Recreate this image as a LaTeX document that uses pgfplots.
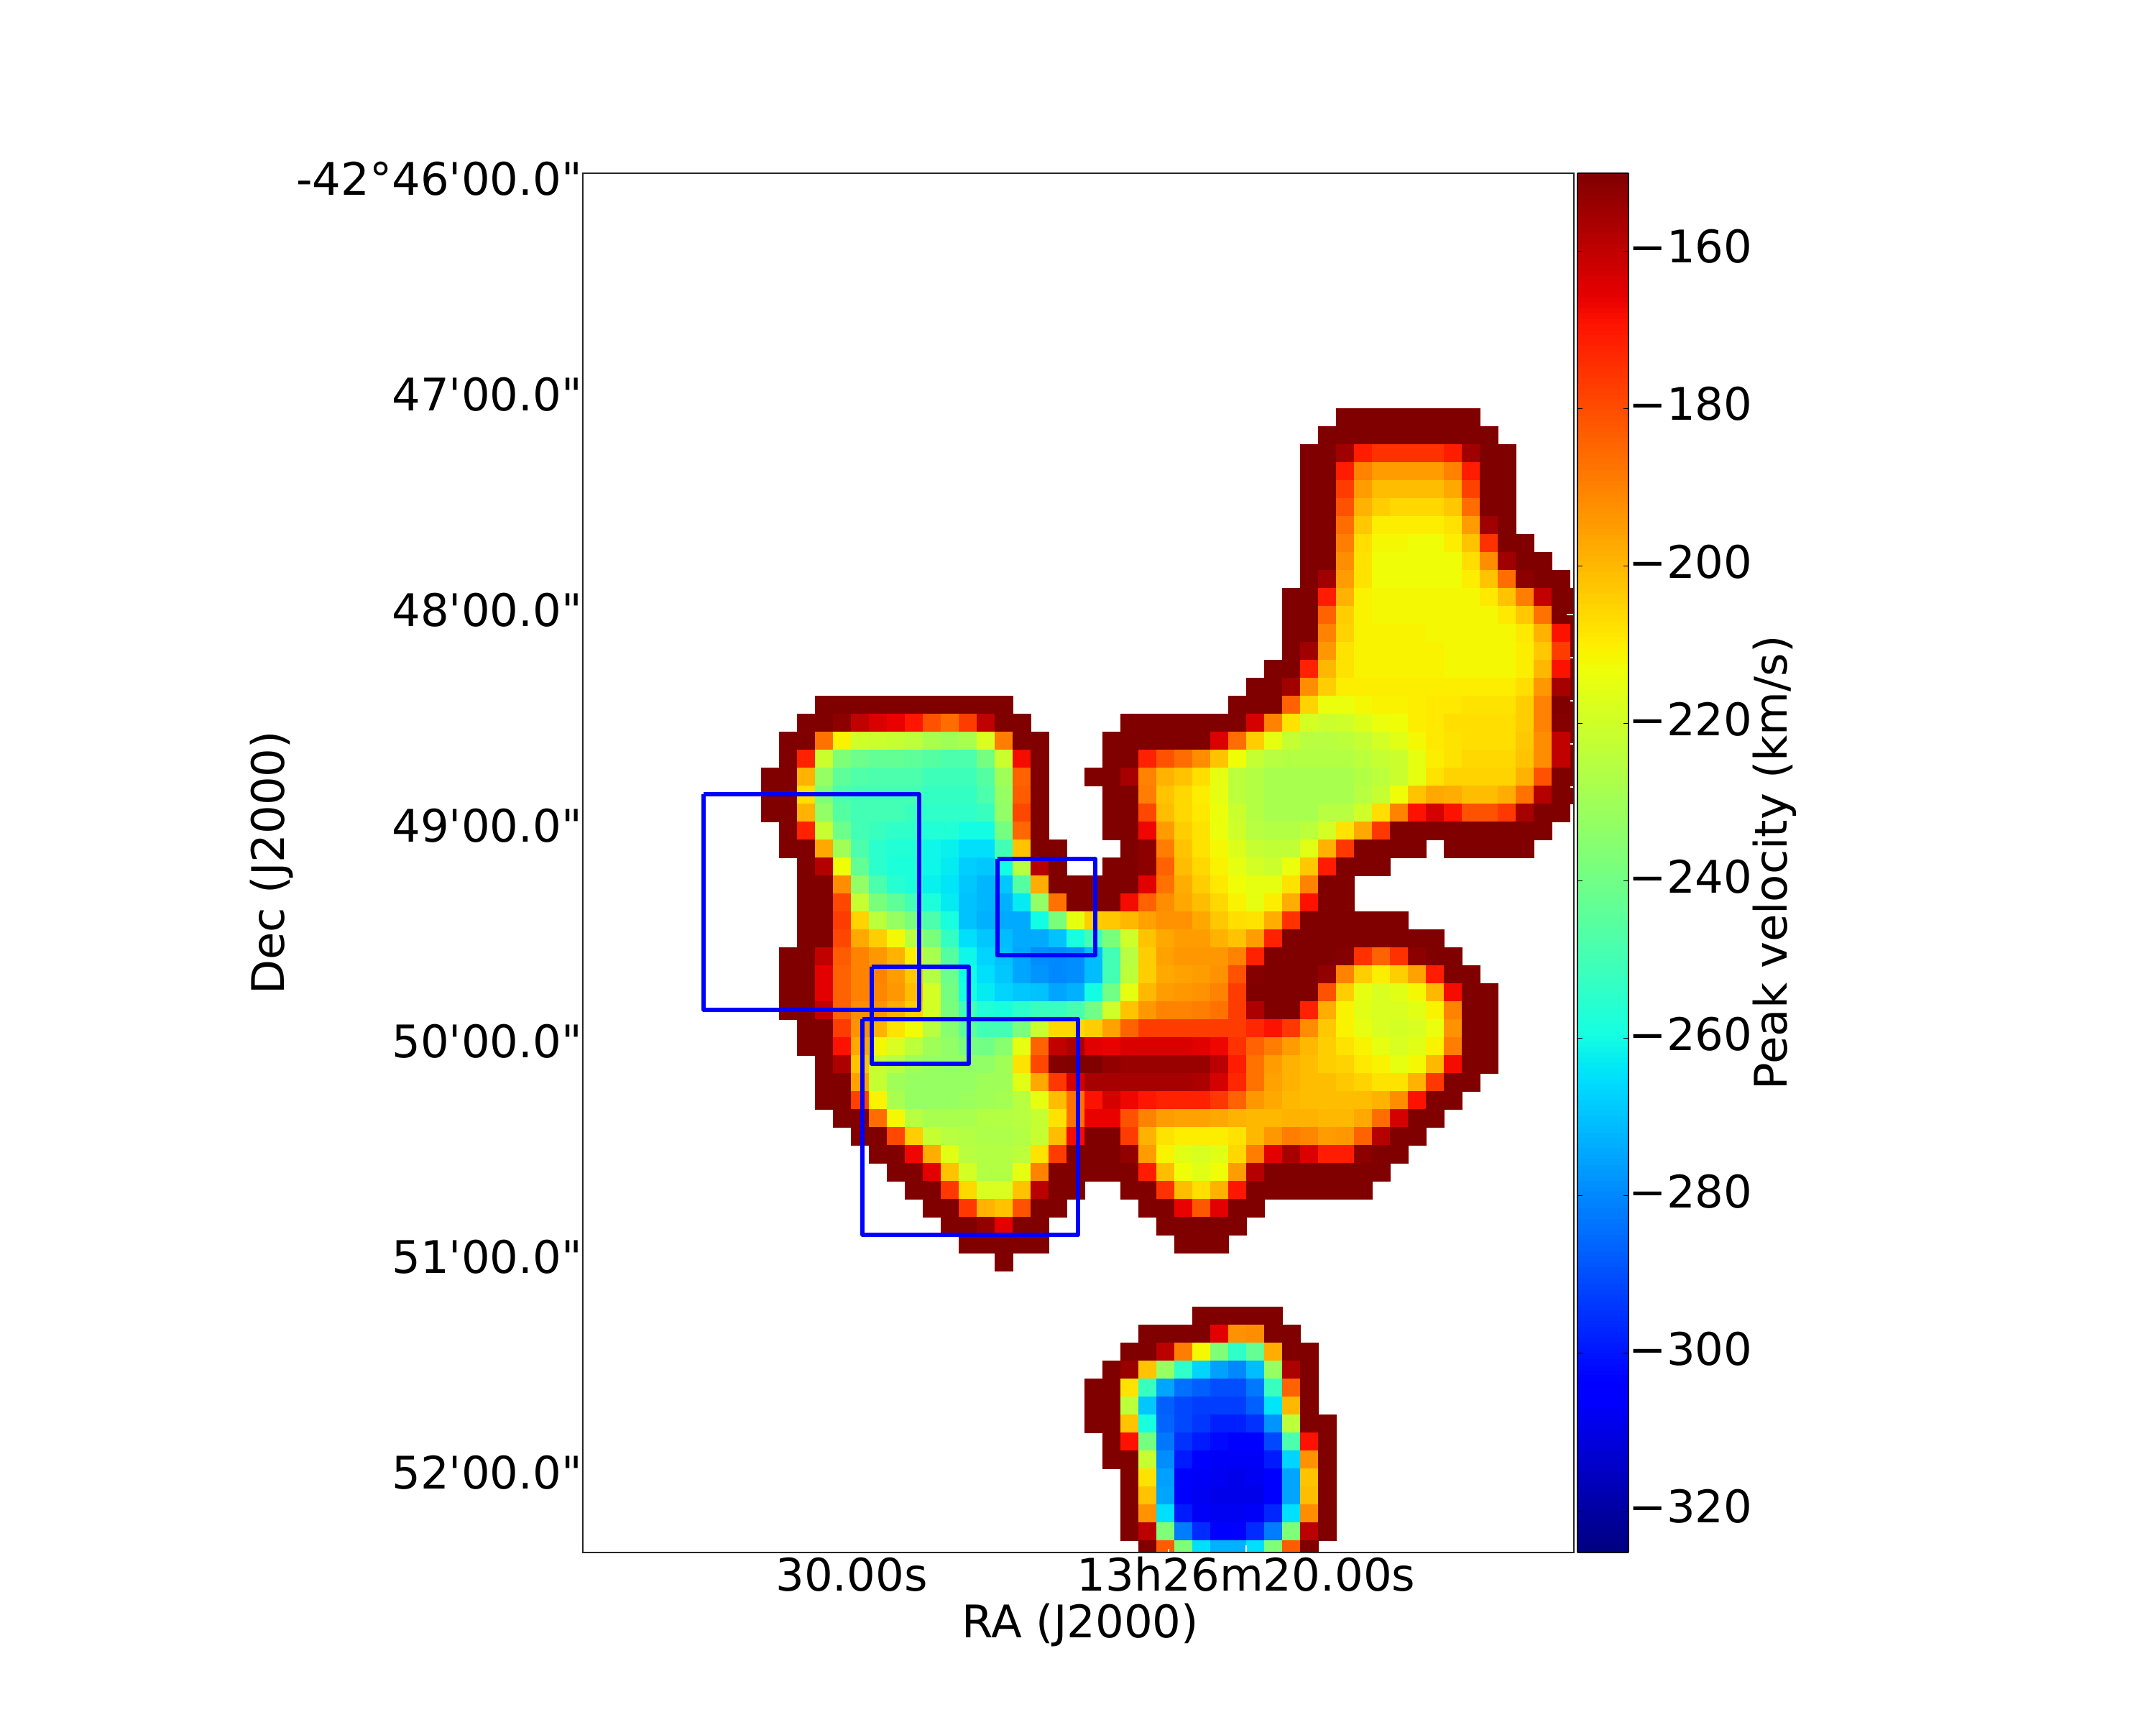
\documentclass[border=0pt]{standalone}
\usepackage{fontspec}
\usepackage{pgfplots}
\pgfplotsset{compat=1.18}
\newfontfamily\lab{DejaVu Sans}

% matplotlib jet
\pgfplotsset{colormap={mpljet}{
  rgb(0pt)=(0,0,.5); rgb(110pt)=(0,0,1); rgb(125pt)=(0,0,1); rgb(340pt)=(0,.86,1);
  rgb(350pt)=(0,.9,.968); rgb(375pt)=(.081,1,.887); rgb(640pt)=(.935,1,.032);
  rgb(650pt)=(.968,.963,0); rgb(660pt)=(1,.926,0); rgb(890pt)=(1,.074,0);
  rgb(910pt)=(.909,0,0); rgb(1000pt)=(.5,0,0)}}

% one image row: row index, first column, peak velocities (km/s)
% last column is cut by the frame, its centre is outside: drawn first, just inside
\def\cells{(54.7,23) [-150] (54.7,24) [-150] (54.7,25) [-150] (54.7,26) [-150] (54.7,27) [-150] (54.7,28) [-150] (54.7,29) [-150] (54.7,30) [-150] (54.7,31) [-150] (54.7,32) [-150] (54.7,33) [-150] (54.7,34) [-150] }
\newcount\cc
\newcommand\cellrow[3]{\cc=#2\relax\foreach \v in {#3}{\xdef\cells{\cells (\the\cc,#1) [\v]}\global\advance\cc by 1\relax}}

\cellrow{13}{42}{-150,-150,-150,-150,-150,-150,-150,-150}
\cellrow{14}{41}{-150,-150,-150,-150,-150,-150,-150,-150,-150,-150}
\cellrow{15}{40}{-150,-150,-155,-171,-175,-175,-175,-175,-171,-155,-150,-150}
\cellrow{16}{40}{-150,-150,-171,-190,-195,-195,-195,-195,-190,-171,-150,-150}
\cellrow{17}{40}{-150,-150,-177,-195,-201,-201,-201,-201,-197,-178,-150,-150}
\cellrow{18}{40}{-150,-150,-181,-199,-204,-206,-206,-206,-203,-186,-150,-150}
\cellrow{19}{40}{-150,-150,-186,-203,-210,-210,-210,-210,-208,-195,-155,-150}
\cellrow{20}{40}{-150,-150,-189,-207,-212,-212,-213,-213,-210,-202,-175,-150,-150}
\cellrow{21}{40}{-150,-150,-192,-208,-213,-213,-213,-213,-213,-207,-192,-155,-150,-150}
\cellrow{22}{40}{-150,-155,-195,-208,-213,-213,-213,-213,-213,-210,-202,-186,-152,-150,-150}
\cellrow{23}{39}{-150,-150,-171,-199,-211,-212,-212,-212,-212,-212,-212,-209,-202,-189,-160,-150}
\cellrow{24}{39}{-150,-150,-184,-204,-211,-212,-212,-212,-212,-212,-212,-212,-209,-203,-187,-150}
\cellrow{25}{39}{-150,-150,-190,-205,-211,-211,-211,-211,-212,-212,-212,-212,-212,-209,-199,-169}
\cellrow{26}{39}{-150,-155,-194,-208,-211,-211,-211,-211,-211,-212,-212,-212,-212,-210,-203,-177}
\cellrow{27}{38}{-150,-150,-172,-200,-208,-211,-211,-211,-211,-211,-212,-212,-212,-212,-210,-200,-169}
\cellrow{28}{37}{-150,-150,-155,-192,-204,-210,-210,-210,-210,-210,-210,-210,-210,-210,-210,-207,-194,-156}
\cellrow{29}{13}{-150,-150,-150,-150,-150,-150,-150,-150,-150,-150,-150}
\cellrow{29}{36}{-150,-150,-150,-184,-205,-214,-214,-212,-211,-211,-210,-209,-209,-208,-208,-208,-204,-190,-150}
\cellrow{30}{12}{-150,-150,-152,-160,-164,-166,-170,-181,-186,-177,-160,-150,-150}
\cellrow{30}{30}{-150,-150,-150,-150,-150,-150,-150,-163,-190,-208,-219,-221,-220,-217,-214,-213,-210,-209,-207,-207,-207,-207,-204,-190,-151}
\cellrow{31}{11}{-150,-150,-187,-211,-220,-221,-222,-224,-228,-230,-228,-218,-189,-150,-150}
\cellrow{31}{29}{-150,-150,-150,-150,-150,-150,-164,-186,-204,-215,-222,-225,-225,-224,-222,-219,-216,-212,-209,-208,-207,-207,-207,-203,-192,-160}
\cellrow{32}{11}{-150,-172,-221,-237,-241,-243,-243,-244,-246,-248,-248,-239,-221,-168,-150}
\cellrow{32}{29}{-150,-150,-172,-181,-186,-192,-202,-213,-222,-225,-226,-226,-226,-226,-224,-222,-221,-215,-210,-208,-206,-206,-206,-202,-192,-160}
\cellrow{33}{10}{-150,-150,-199,-232,-244,-247,-248,-248,-248,-251,-251,-251,-246,-230,-184,-150}
\cellrow{33}{28}{-150,-150,-156,-190,-199,-202,-207,-215,-224,-226,-228,-228,-228,-228,-228,-226,-224,-221,-215,-208,-205,-205,-205,-205,-199,-181,-150}
\cellrow{34}{10}{-150,-150,-207,-237,-248,-250,-250,-250,-250,-253,-253,-253,-248,-232,-183,-150}
\cellrow{34}{29}{-150,-150,-189,-202,-206,-210,-215,-224,-226,-228,-228,-228,-228,-228,-225,-222,-213,-202,-197,-198,-201,-201,-198,-187,-158,-150}
\cellrow{35}{10}{-150,-150,-199,-233,-246,-250,-250,-250,-252,-254,-254,-254,-252,-233,-179,-150}
\cellrow{35}{29}{-150,-150,-179,-201,-206,-209,-214,-221,-226,-228,-228,-228,-225,-225,-220,-207,-190,-169,-163,-169,-181,-181,-176,-156,-150,-150}
\cellrow{36}{11}{-150,-172,-222,-241,-250,-252,-254,-254,-257,-257,-260,-260,-239,-185,-150}
\cellrow{36}{29}{-150,-150,-167,-195,-204,-208,-214,-220,-225,-226,-226,-224,-219,-208,-197,-176,-150,-150,-150,-150,-150,-150,-150,-150,-150}
\cellrow{37}{11}{-150,-150,-197,-230,-248,-255,-257,-257,-261,-262,-265,-265,-250,-202,-150,-150}
\cellrow{37}{30}{-150,-152,-189,-202,-208,-212,-217,-222,-223,-223,-216,-199,-176,-150,-150,-150,-150}
\cellrow{37}{48}{-150,-150,-150,-150,-150}
\cellrow{38}{12}{-150,-158,-213,-243,-255,-258,-258,-261,-263,-268,-269,-260,-225,-158,-150}
\cellrow{38}{29}{-150,-150,-152,-184,-201,-206,-211,-215,-219,-221,-214,-203,-171,-150,-150,-150}
\cellrow{39}{12}{-150,-150,-192,-233,-248,-256,-258,-262,-264,-269,-272,-269,-246,-198,-150,-150,-150,-150,-150,-165,-187,-198,-204,-209,-213,-215,-215,-208,-190,-150,-150}
\cellrow{40}{12}{-150,-150,-179,-222,-238,-244,-250,-258,-263,-270,-272,-273,-263,-233,-187,-150,-150,-150,-168,-184,-192,-197,-201,-206,-211,-215,-210,-198,-169,-150,-150}
\cellrow{41}{12}{-150,-150,-177,-205,-224,-232,-238,-248,-259,-270,-273,-274,-274,-260,-238,-215,-204,-203,-200,-196,-193,-193,-197,-203,-207,-208,-198,-175,-150,-150,-150,-150,-150,-150}
\cellrow{42}{12}{-150,-150,-179,-197,-204,-212,-225,-238,-253,-265,-269,-271,-274,-274,-270,-259,-250,-238,-220,-202,-197,-195,-195,-199,-202,-195,-172,-150,-150,-150,-150,-150,-150,-150,-150,-150}
\cellrow{43}{11}{-150,-150,-160,-183,-190,-194,-199,-210,-228,-246,-261,-267,-270,-275,-279,-280,-279,-271,-250,-225,-204,-196,-194,-194,-194,-190,-172,-150,-150,-150,-150,-151,-175,-184,-175,-152,-150,-150}
\cellrow{44}{11}{-150,-150,-165,-184,-190,-190,-195,-203,-226,-241,-260,-265,-269,-275,-278,-280,-279,-271,-250,-224,-204,-197,-196,-195,-193,-181,-151,-150,-150,-150,-153,-190,-204,-210,-204,-196,-171,-150,-150}
\cellrow{45}{11}{-150,-150,-165,-184,-190,-191,-194,-201,-219,-239,-259,-263,-267,-269,-270,-275,-273,-260,-240,-215,-200,-195,-194,-193,-190,-177,-150,-150,-150,-150,-181,-204,-215,-218,-216,-212,-200,-168,-150,-150}
\cellrow{46}{11}{-150,-150,-160,-184,-192,-193,-198,-204,-219,-238,-250,-257,-259,-255,-252,-252,-249,-240,-220,-202,-194,-190,-190,-189,-187,-177,-157,-150,-150,-172,-198,-211,-216,-218,-218,-216,-211,-190,-150,-150}
\cellrow{47}{12}{-150,-150,-177,-193,-199,-208,-213,-225,-235,-244,-250,-250,-238,-221,-206,-206,-204,-196,-184,-177,-177,-177,-177,-177,-177,-173,-169,-176,-192,-203,-211,-215,-218,-219,-218,-214,-193,-150,-150}
\cellrow{48}{12}{-150,-150,-169,-197,-212,-218,-224,-230,-233,-238,-240,-235,-215,-184,-160,-157,-165,-166,-164,-164,-164,-164,-165,-167,-175,-184,-189,-195,-200,-204,-208,-211,-215,-218,-216,-211,-189,-150,-150}
\cellrow{49}{13}{-150,-157,-202,-222,-225,-230,-232,-233,-233,-233,-230,-208,-179,-151,-150,-150,-153,-154,-154,-154,-154,-154,-159,-171,-187,-195,-199,-201,-204,-205,-209,-211,-215,-212,-200,-168,-150,-150}
\cellrow{50}{13}{-150,-150,-196,-222,-230,-232,-232,-232,-232,-230,-230,-216,-197,-176,-163,-156,-156,-156,-156,-156,-156,-157,-163,-173,-187,-196,-199,-201,-201,-203,-205,-208,-208,-199,-176,-150,-150}
\cellrow{51}{13}{-150,-150,-178,-211,-228,-232,-232,-232,-231,-230,-229,-225,-215,-201,-187,-169,-163,-167,-170,-172,-172,-172,-176,-184,-194,-197,-200,-201,-201,-201,-201,-199,-192,-169,-150,-150}
\cellrow{52}{14}{-150,-150,-186,-212,-225,-228,-228,-228,-226,-226,-225,-222,-208,-187,-166,-166,-181,-190,-195,-196,-196,-197,-199,-200,-200,-199,-199,-200,-200,-197,-186,-163,-150,-150}
\cellrow{53}{15}{-150,-150,-179,-204,-222,-225,-226,-227,-227,-226,-222,-201,-168,-150,-150,-177,-199,-208,-210,-210,-210,-208,-200,-194,-189,-191,-195,-194,-184,-158,-150,-150}
\cellrow{54}{16}{-150,-150,-167,-198,-216,-225,-226,-226,-224,-208,-177,-150,-150,-150,-153,-195,-211,-216,-218,-216,-206,-189,-165,-156,-164,-171,-171,-152,-150,-150}
\cellrow{55}{17}{-150,-150,-165,-202,-219,-226,-226,-215,-190,-150,-150,-150,-150,-150,-171,-201,-213,-216,-213,-195,-158,-150,-150,-150,-150,-150,-150,-150}
\cellrow{56}{18}{-150,-150,-176,-206,-218,-218,-202,-159,-150,-150}
\cellrow{56}{30}{-150,-150,-175,-201,-207,-199,-170,-150,-150,-150,-150,-150,-150,-150}
\cellrow{57}{19}{-150,-150,-176,-199,-202,-181,-150,-150}
\cellrow{57}{31}{-150,-150,-166,-182,-165,-150,-150}
\cellrow{58}{20}{-150,-150,-153,-165,-150,-150}
\cellrow{58}{32}{-150,-150,-150,-150,-150}
\cellrow{59}{21}{-150,-150,-150,-150,-150}
\cellrow{59}{33}{-150,-150,-150}
\cellrow{60}{23}{-150}
\cellrow{63}{34}{-150,-150,-150,-150,-150}
\cellrow{64}{31}{-150,-150,-150,-150,-165,-193,-192,-150,-150}
\cellrow{65}{30}{-150,-150,-159,-189,-212,-237,-254,-243,-198,-150,-150}
\cellrow{66}{29}{-150,-154,-202,-232,-254,-267,-276,-280,-271,-232,-157,-150}
\cellrow{67}{28}{-150,-150,-208,-252,-275,-284,-287,-290,-290,-283,-252,-184,-150}
\cellrow{68}{28}{-150,-150,-224,-269,-287,-291,-293,-293,-293,-287,-264,-200,-150}
\cellrow{69}{28}{-150,-150,-202,-259,-286,-291,-294,-298,-298,-295,-278,-224,-150,-150}
\cellrow{70}{29}{-150,-169,-239,-283,-295,-299,-302,-304,-305,-291,-248,-169,-150}
\cellrow{71}{29}{-150,-150,-222,-279,-299,-304,-307,-307,-307,-299,-267,-193,-150}
\cellrow{72}{30}{-150,-208,-276,-304,-307,-308,-309,-308,-304,-275,-202,-150}
\cellrow{73}{30}{-150,-202,-275,-304,-308,-309,-309,-309,-304,-275,-201,-150}
\cellrow{74}{30}{-150,-193,-265,-299,-307,-308,-308,-307,-297,-265,-192,-150}
\cellrow{75}{30}{-150,-159,-237,-282,-296,-304,-304,-296,-282,-237,-159,-150}
\cellrow{76}{31}{-150,-183,-237,-265,-273,-273,-265,-237,-183,-150}

\newcommand\plotcells[1]{\addplot[scatter, only marks, mark=square*, mark size=1.25mm,
  scatter/use mapped color={draw=mapped color,fill=mapped color},
  mark options={line width=.1pt}, point meta=explicit] coordinates {#1};}

\begin{document}
\lab\fontsize{17.78}{21}\selectfont
\begin{tikzpicture}
\useasboundingbox (-81.07mm,-24mm) rectangle (218.93mm,216mm);
\begin{axis}[
  at={(0,0)}, anchor=south west,
  scale only axis, width=137.93mm, height=191.93mm,
  xmin=-0.432, xmax=54.74, ymin=-0.592, ymax=76.18, y dir=reverse,
  clip marker paths=true,
  axis on top, axis line style={line width=.2mm, black!85},
  colormap name=mpljet, point meta min=-325.3, point meta max=-150.1,
  xtick={14.54,36.5}, xticklabels={30.00s,13h26m20.00s},
  minor xtick={27.86,32.18,40.82},
  ytick={-0.02,11.98,23.98,35.98,47.98,59.98,71.98},
  yticklabels={-42°46'00.0",47'00.0",48'00.0",49'00.0",50'00.0",51'00.0",52'00.0"},
  minor ytick={-0.02,2.38,...,76},
  tick align=inside,
  major tick length=1mm, minor tick length=.5mm,
  every tick/.style={white, line width=.12mm},
  yticklabel style={anchor=base east, inner sep=0pt, xshift=0mm, yshift=-1.67mm},
  xticklabel style={anchor=base, inner sep=0pt, yshift=-5.3mm},
  xlabel={RA (J2000)}, ylabel={Dec (J2000)},
  every axis x label/.style={at={(axis description cs:0.502,0)},anchor=base,yshift=-11.8mm},
  every axis y label/.style={at={(axis description cs:-0.3007,0.5)},rotate=90,anchor=base},
  colorbar sampled,
  colorbar shift/.style={xshift=.5mm},
  colorbar style={
    at={(parent axis.north east)}, anchor=north west,
    width=7.1mm, y dir=normal, samples=257,
    ytick={-320,-300,-280,-260,-240,-220,-200,-180,-160},
    yticklabels={−320,−300,−280,−260,−240,−220,−200,−180,−160},
    yticklabel pos=right, ytick pos=both, tick align=inside,
    major tick length=.67mm,
    every tick/.style={black, line width=.08mm},
    axis line style={line width=.2mm, black},
    yticklabel style={anchor=base west, inner sep=0pt, xshift=0mm, yshift=-1.67mm},
    ylabel={Peak velocity (km/s)},
    every axis y label/.style={at={(axis description cs:4.11,0.5)},rotate=90,anchor=base},
  },
]
\expandafter\plotcells\expandafter{\cells}
\end{axis}
% the four blue boxes, in a second axis over the cells
\begin{axis}[
  at={(0,0)}, anchor=south west,
  scale only axis, width=137.93mm, height=191.93mm,
  xmin=-0.432, xmax=54.74, ymin=-0.592, ymax=76.18, y dir=reverse,
  hide axis,
]
\addplot[blue, line width=.55mm, line join=round] coordinates {(6.3,33.98) (18.3,33.98) (18.3,45.98) (6.3,45.98) (6.3,33.98)};
\addplot[blue, line width=.55mm, line join=round] coordinates {(22.66,37.58) (28.1,37.58) (28.1,42.94) (22.66,42.94) (22.66,37.58)};
\addplot[blue, line width=.55mm, line join=round] coordinates {(15.66,43.58) (21.06,43.58) (21.06,48.98) (15.66,48.98) (15.66,43.58)};
\addplot[blue, line width=.55mm, line join=round] coordinates {(15.14,46.5) (27.14,46.5) (27.14,58.5) (15.14,58.5) (15.14,46.5)};
\end{axis}
\end{tikzpicture}
\end{document}
